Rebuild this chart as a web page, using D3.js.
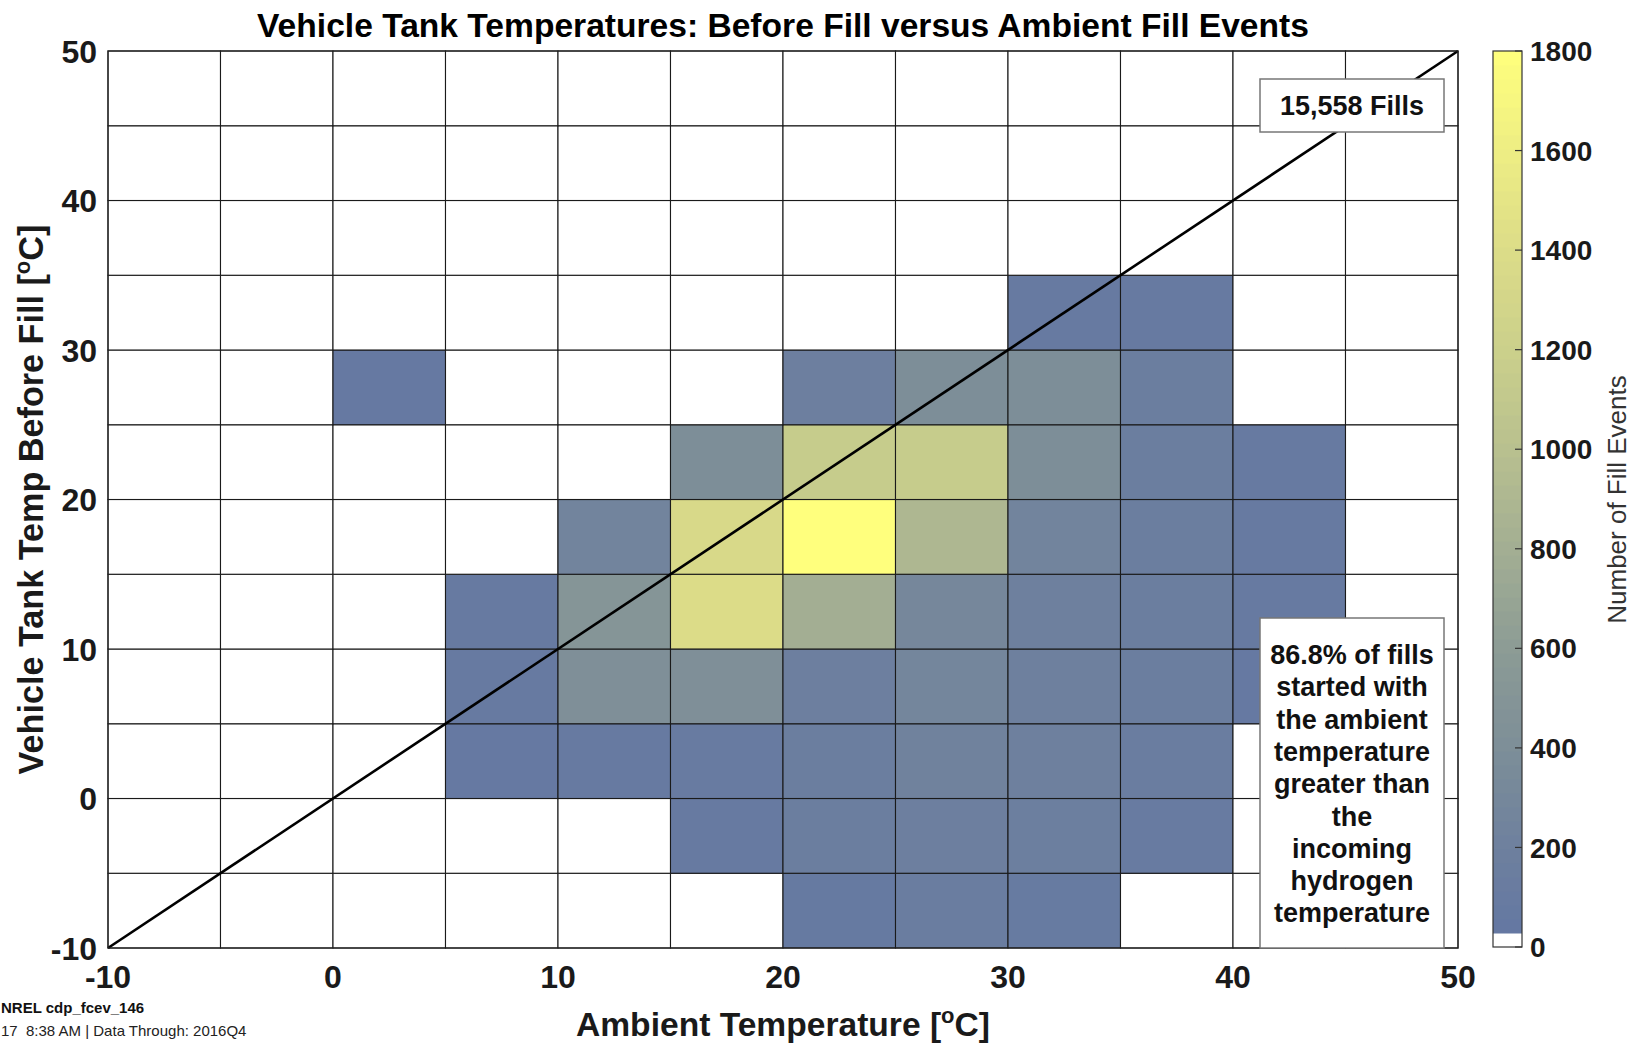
<!DOCTYPE html>
<html>
<head>
<meta charset="utf-8">
<script src="https://cdn.jsdelivr.net/npm/d3@7"></script>
<style>
  html, body { margin: 0; padding: 0; background: #fff; }
  svg { display: block; font-family: "Liberation Sans", Arial, Helvetica, sans-serif; }
</style>
</head>
<body>
<svg id="chart" width="1633" height="1043"></svg>
<script>
// ---- data ----
const xEdges = [-10, -5, 0, 5, 10, 15, 20, 25, 30, 35, 40, 45];   // bin left edges (ambient, °C)
const yEdges = [-10, -5, 0, 5, 10, 15, 20, 25, 30, 35, 40, 45];   // bin lower edges (tank temp, °C)
const binWidth = 5;
// counts[row for yEdges[i]][column for xEdges[j]]
const counts = [
  [0, 0, 0, 0, 0, 0, 70, 130, 90, 0, 0, 0],        // y -10..-5
  [0, 0, 0, 0, 0, 80, 150, 180, 170, 100, 0, 0],   // y -5..0
  [0, 0, 0, 60, 80, 100, 150, 230, 200, 130, 0, 0],// y 0..5
  [0, 0, 0, 80, 420, 420, 180, 280, 200, 150, 60, 0], // y 5..10
  [0, 0, 0, 80, 500, 1400, 800, 300, 200, 150, 80, 0],// y 10..15
  [0, 0, 0, 0, 250, 1350, 1800, 900, 250, 150, 80, 0],// y 15..20
  [0, 0, 0, 0, 0, 400, 1150, 1150, 400, 150, 80, 0],  // y 20..25
  [0, 0, 60, 0, 0, 0, 180, 400, 400, 150, 0, 0],      // y 25..30
  [0, 0, 0, 0, 0, 0, 0, 0, 80, 80, 0, 0],             // y 30..35
  [0, 0, 0, 0, 0, 0, 0, 0, 0, 0, 0, 0],               // y 35..40
  [0, 0, 0, 0, 0, 0, 0, 0, 0, 0, 0, 0],               // y 40..45
  [0, 0, 0, 0, 0, 0, 0, 0, 0, 0, 0, 0]                // y 45..50
];
const xTicks = [-10, 0, 10, 20, 30, 40, 50];
const yTicks = [-10, 0, 10, 20, 30, 40, 50];
const cbTicks = [0, 200, 400, 600, 800, 1000, 1200, 1400, 1600, 1800];
const colorStops = [0, 200, 400, 600, 800, 1000, 1200, 1400, 1600, 1800];
const colorValues = ["#6276a3", "#6e809e", "#7d8e98", "#8c9c95", "#a3ae93", "#b8c08f", "#cbd08b", "#dcdc88", "#eeee84", "#ffff7d"];
const totalFills = "15,558 Fills";
const noteLines = ["86.8% of fills", "started with", "the ambient", "temperature", "greater than", "the", "incoming", "hydrogen", "temperature"];
const titleText = "Vehicle Tank Temperatures: Before Fill versus Ambient Fill Events";
const footer1 = "NREL cdp_fcev_146";
const footer2 = "17  8:38 AM | Data Through: 2016Q4";

// ---- layout ----
const svg = d3.select("#chart");
const L = 108, R = 1458, T = 51, B = 948;
const x = d3.scaleLinear().domain([-10, 50]).range([L, R]);
const y = d3.scaleLinear().domain([-10, 50]).range([B, T]);
const cmax = 1800, nLevels = 64;
const color = d3.scaleLinear().domain(colorStops).range(colorValues).interpolate(d3.interpolateRgb);
function fillFor(v) {
  const idx = Math.min(nLevels - 1, Math.floor(v / cmax * nLevels));
  return idx <= 0 ? "#ffffff" : color(v);
}

// cells
const cells = [];
yEdges.forEach((ye, i) => xEdges.forEach((xe, j) => cells.push({ x0: xe, y0: ye, v: counts[i][j] })));
svg.append("g").selectAll("rect").data(cells).join("rect")
  .attr("x", d => x(d.x0))
  .attr("y", d => y(d.y0 + binWidth))
  .attr("width", d => x(d.x0 + binWidth) - x(d.x0))
  .attr("height", d => y(d.y0) - y(d.y0 + binWidth))
  .attr("fill", d => fillFor(d.v))
  .attr("stroke", "#1a1a1a")
  .attr("stroke-width", 1.1);

// diagonal y = x
svg.append("line")
  .attr("x1", x(-10)).attr("y1", y(-10))
  .attr("x2", x(50)).attr("y2", y(50))
  .attr("stroke", "#000").attr("stroke-width", 2.6);

// frame
svg.append("rect").attr("x", L).attr("y", T).attr("width", R - L).attr("height", B - T)
  .attr("fill", "none").attr("stroke", "#222").attr("stroke-width", 1.2);

// axes tick labels
const fontTick = 32;
svg.append("g").selectAll("text").data(xTicks).join("text")
  .attr("x", d => x(d)).attr("y", 988)
  .attr("text-anchor", "middle").attr("font-size", fontTick).attr("font-weight", "bold")
  .attr("fill", "#1a1a1a").text(d => d);
svg.append("g").selectAll("text").data(yTicks).join("text")
  .attr("x", 97).attr("y", d => y(d)).attr("dy", "0.36em")
  .attr("text-anchor", "end").attr("font-size", fontTick).attr("font-weight", "bold")
  .attr("fill", "#1a1a1a").text(d => d);

// title
svg.append("text").attr("x", (L + R) / 2).attr("y", 37)
  .attr("text-anchor", "middle").attr("font-size", 33.6).attr("font-weight", "bold")
  .attr("fill", "#000").text(titleText);

// x label
const xl = svg.append("text").attr("x", (L + R) / 2).attr("y", 1036)
  .attr("text-anchor", "middle").attr("font-size", 33.6).attr("font-weight", "bold").attr("fill", "#1a1a1a");
xl.append("tspan").text("Ambient Temperature [");
xl.append("tspan").attr("font-size", 22).attr("dy", -13).text("o");
xl.append("tspan").attr("dy", 13).text("C]");

// y label
const yl = svg.append("text").attr("transform", `translate(43,${(T + B) / 2}) rotate(-90)`)
  .attr("text-anchor", "middle").attr("font-size", 34.2).attr("font-weight", "bold").attr("fill", "#1a1a1a");
yl.append("tspan").text("Vehicle Tank Temp Before Fill [");
yl.append("tspan").attr("font-size", 22).attr("dy", -13).text("o");
yl.append("tspan").attr("dy", 13).text("C]");

// annotation boxes
svg.append("rect").attr("x", 1260).attr("y", 79).attr("width", 184).attr("height", 53)
  .attr("fill", "#fff").attr("stroke", "#777").attr("stroke-width", 1.5);
svg.append("text").attr("x", 1352).attr("y", 115).attr("text-anchor", "middle")
  .attr("font-size", 27).attr("font-weight", "bold").attr("fill", "#111").text(totalFills);

svg.append("rect").attr("x", 1260).attr("y", 618).attr("width", 184).attr("height", 330)
  .attr("fill", "#fff").attr("stroke", "#777").attr("stroke-width", 1.5);
svg.append("g").selectAll("text").data(noteLines).join("text")
  .attr("x", 1352).attr("y", (d, i) => 664 + i * 32.3)
  .attr("text-anchor", "middle").attr("font-size", 27).attr("font-weight", "bold")
  .attr("fill", "#111").text(d => d);

// colorbar
const cbX = 1493, cbW = 29;
const cy = d3.scaleLinear().domain([0, cmax]).range([947, 51]);
const levels = d3.range(nLevels);
svg.append("g").selectAll("rect").data(levels).join("rect")
  .attr("x", cbX)
  .attr("y", i => cy((i + 1) * cmax / nLevels))
  .attr("width", cbW)
  .attr("height", i => cy(i * cmax / nLevels) - cy((i + 1) * cmax / nLevels) + 0.5)
  .attr("fill", i => i === 0 ? "#ffffff" : color((i + 0.5) * cmax / nLevels));
svg.append("rect").attr("x", cbX).attr("y", cy(cmax)).attr("width", cbW).attr("height", cy(0) - cy(cmax))
  .attr("fill", "none").attr("stroke", "#333").attr("stroke-width", 1.2);
svg.append("g").selectAll("line").data(cbTicks).join("line")
  .attr("x1", cbX + cbW - 7).attr("x2", cbX + cbW).attr("y1", d => cy(d)).attr("y2", d => cy(d))
  .attr("stroke", "#333").attr("stroke-width", 1.2);
svg.append("g").selectAll("text").data(cbTicks).join("text")
  .attr("x", 1530).attr("y", d => cy(d)).attr("dy", "0.36em")
  .attr("font-size", 28).attr("font-weight", "bold").attr("fill", "#1a1a1a").text(d => d);
svg.append("text").attr("transform", `translate(1626,${(T + B) / 2}) rotate(-90)`)
  .attr("text-anchor", "middle").attr("font-size", 26).attr("fill", "#333").text("Number of Fill Events");

// footer
svg.append("text").attr("x", 1).attr("y", 1013).attr("font-size", 15).attr("font-weight", "bold")
  .attr("fill", "#111").text(footer1);
svg.append("text").attr("x", 1).attr("y", 1036).attr("font-size", 15)
  .attr("fill", "#222").style("white-space", "pre").text(footer2);
</script>
</body>
</html>
